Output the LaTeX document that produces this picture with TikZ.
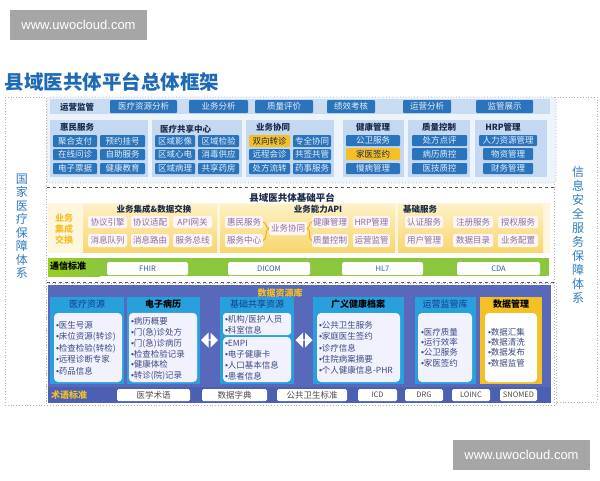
\documentclass[tikz,border=0pt]{standalone}
\usepackage{fontspec}
\setmainfont{Noto Sans CJK SC}
\newfontfamily\wmfont{Liberation Sans}
\newcommand\bul{{\wmfont •}}
\usetikzlibrary{shapes.arrows}
\definecolor{titleblue}{HTML}{1E6AB4}
\definecolor{btnblue}{HTML}{2A74BC}
\definecolor{btntext}{HTML}{E4EEFA}
\definecolor{grpblue}{HTML}{C4D9F1}
\definecolor{bandbg}{HTML}{EDF4FC}
\definecolor{stripblue}{HTML}{C9DCF1}
\definecolor{hlyellow}{HTML}{F5C026}
\definecolor{darktext}{HTML}{1A2A4A}
\definecolor{sidetext}{HTML}{2E7BBF}
\definecolor{ptext}{HTML}{8B6EA9}
\definecolor{pfill}{HTML}{FDF6F4}
\definecolor{greenbar}{HTML}{8CC63E}
\definecolor{greenlab}{HTML}{6DBB2E}
\definecolor{stdtext}{HTML}{2E5F9A}
\definecolor{navy}{HTML}{5868BA}
\definecolor{colblue}{HTML}{27A0DC}
\definecolor{termbar}{HTML}{4B5FB3}
\definecolor{itemtext}{HTML}{3C4A80}
\definecolor{coltitle}{HTML}{183A8C}
\definecolor{wmgray}{HTML}{A6A6A6}
\definecolor{ptop}{HTML}{FDF1C6}
\definecolor{pbot}{HTML}{F8D66E}
\newcommand\RB[7]{\node[#6, minimum width={(#4)-(#2)}, minimum height={(#5)-(#3)}] (#1) at ({((#2)+(#4))/2},{((#3)+(#5))/2}) {#7};}
\tikzset{
  every node/.style={inner sep=0pt, outer sep=0pt},
  bbtn/.style={fill=btnblue, text=btntext, font=\fontsize{8.5}{9}\selectfont, rounded corners=1pt},
  ybtn/.style={fill=hlyellow, text=darktext, font=\fontsize{8.5}{9}\selectfont, rounded corners=1pt},
  grp/.style={fill=grpblue},
  gtitle/.style={text=darktext, font=\fontsize{8.5}{9}\selectfont\bfseries},
  pbtn/.style={fill=pfill, text=ptext, font=\fontsize{8.5}{9}\selectfont, rounded corners=2pt},
  ypanel/.style={top color=ptop, bottom color=pbot},
  sbox/.style={fill=white, text=stdtext, font=\fontsize{7.5}{8}\selectfont, rounded corners=1.5pt},
  tbox/.style={fill=white, text=black!70, font=\fontsize{8.5}{9}\selectfont, rounded corners=1.5pt},
  col/.style={fill=colblue},
  inner/.style={fill=white!95!blue, rounded corners=4pt},
  items/.style={align=left, text=itemtext, anchor=west},
  ctitle/.style={font=\fontsize{9}{10}\selectfont, text=coltitle},
  cbtitle/.style={font=\fontsize{9}{10}\selectfont\bfseries, text=black},
  side/.style={draw=black!30, dotted, line width=0.8pt},
  brk/.style={draw=orange!50!yellow!80!brown, line width=1pt},
  darr/.style={double arrow, fill=white, minimum width=15pt, double arrow head extend=2pt, minimum height=17pt}
}
\begin{document}
\begin{tikzpicture}[x=1pt,y=-1pt]
\useasboundingbox (0,0) rectangle (600,480);
\fill[white] (0,0) rectangle (600,480);
% watermarks
\RB{wm1}{10}{10}{147}{40}{fill=wmgray, text=white, font=\wmfont\fontsize{13}{14}\selectfont}{www.uwocloud.com}
\RB{wm2}{453}{440}{590}{470}{fill=wmgray, text=white, font=\wmfont\fontsize{13}{14}\selectfont}{www.uwocloud.com}
% title
\node[anchor=west, text=titleblue, font=\fontsize{19.5}{21}\selectfont\bfseries] (title) at (5,82) {县域医共体平台总体框架};
% side panels
\draw[side] (5,97) rectangle (46,405);
\draw[side] (554,97) rectangle (597,402);
\node[align=center, text=sidetext, font=\fontsize{12}{13.5}\selectfont] (lside) at (22,226) {国\\家\\医\\疗\\保\\障\\体\\系};
\node[align=center, text=sidetext, font=\fontsize{12}{14}\selectfont] (rside) at (578,235) {信\\息\\安\\全\\服\\务\\保\\障\\体\\系};
% ===== top band =====
\draw[side, fill=bandbg, rounded corners=3pt] (47,97) rectangle (556,183);
\fill[stripblue] (50,99) rectangle (550,114);
\node[gtitle] (yyjg) at (77,107) {运营监管};
\RB{r1a}{110}{100}{177}{113}{bbtn}{医疗资源分析}
\RB{r1b}{189}{100}{248}{113}{bbtn}{业务分析}
\RB{r1c}{255}{100}{313}{113}{bbtn}{质量评价}
\RB{r1d}{327}{100}{375}{113}{bbtn}{绩效考核}
\RB{r1e}{403}{100}{451}{113}{bbtn}{运营分析}
\RB{r1f}{476}{100}{533}{113}{bbtn}{监管展示}
% groups
\RB{g1}{50}{120}{148}{177}{grp}{}
\RB{g2}{152}{120}{242}{177}{grp}{}
\RB{g3}{246}{120}{334}{177}{grp}{}
\RB{g4}{343}{120}{404}{177}{grp}{}
\RB{g5}{408}{120}{470}{177}{grp}{}
\RB{g6}{475}{120}{547}{177}{grp}{}
\node[gtitle, anchor=west] (g1t) at (60,127) {惠民服务};
\node[gtitle, anchor=west] (g2t) at (160,129) {医疗共享中心};
\node[gtitle, anchor=west] (g3t) at (256,127) {业务协同};
\node[gtitle] (g4t) at (373,127) {健康管理};
\node[gtitle] (g5t) at (439,127) {质量控制};
\node[gtitle] (g6t) at (503,127) {HRP管理};
\RB{b11}{53}{135}{97}{147}{bbtn}{聚合支付}
\RB{b12}{100}{135}{145}{147}{bbtn}{预约挂号}
\RB{b13}{53}{149}{97}{160}{bbtn}{在线问诊}
\RB{b14}{100}{149}{145}{160}{bbtn}{自助服务}
\RB{b15}{53}{163}{97}{174}{bbtn}{电子票据}
\RB{b16}{100}{163}{145}{174}{bbtn}{健康教育}
\RB{b21}{155}{135}{195}{147}{bbtn}{区域影像}
\RB{b22}{198}{135}{239}{147}{bbtn}{区域检验}
\RB{b23}{155}{149}{195}{160}{bbtn}{区域心电}
\RB{b24}{198}{149}{239}{160}{bbtn}{消毒供应}
\RB{b25}{155}{163}{195}{174}{bbtn}{区域病理}
\RB{b26}{198}{163}{239}{174}{bbtn}{共享药房}
\RB{b31}{249}{135}{290}{147}{ybtn}{双向转诊}
\RB{b32}{293}{135}{331}{147}{bbtn}{专全协同}
\RB{b33}{249}{149}{290}{160}{bbtn}{远程会诊}
\RB{b34}{293}{149}{331}{160}{bbtn}{共签共管}
\RB{b35}{249}{163}{290}{174}{bbtn}{处方流转}
\RB{b36}{293}{163}{331}{174}{bbtn}{药事服务}
\RB{b41}{346}{135}{400}{146}{bbtn}{公卫服务}
\RB{b42}{346}{148}{400}{160}{ybtn}{家医签约}
\RB{b43}{346}{163}{400}{174}{bbtn}{慢病管理}
\RB{b51}{412}{135}{467}{146}{bbtn}{处方点评}
\RB{b52}{412}{148}{467}{160}{bbtn}{病历质控}
\RB{b53}{412}{163}{467}{174}{bbtn}{医技质控}
\RB{b61}{479}{135}{537}{146}{bbtn}{人力资源管理}
\RB{b62}{483}{148}{533}{160}{bbtn}{物资管理}
\RB{b63}{483}{163}{533}{174}{bbtn}{财务管理}
% ===== middle platform =====
\draw[dashed, black!65, line width=0.8pt] (47,187) -- (555,187);
\draw[dashed, black!65, line width=0.8pt] (47,282) -- (555,282);
\node[gtitle, font=\fontsize{9.5}{10}\selectfont\bfseries] (midt) at (292,198) {县域医共体基础平台};
\RB{ypan}{48}{203}{550}{253}{fill=ptop!60!white}{}
\RB{pa}{83}{204}{217}{252}{ypanel}{}
\RB{pb}{220}{204}{395}{252}{ypanel}{}
\RB{pc}{398}{204}{543}{252}{ypanel}{}
\node[align=center, text=hlyellow, font=\fontsize{9}{11}\selectfont\bfseries] (ywjc) at (64,229) {业务\\集成\\交换};
\node[gtitle] (pat) at (154,209) {业务集成\&数据交换};
\node[gtitle] (pbt) at (318,209) {业务能力API};
\node[gtitle] (pct) at (420,209) {基础服务};
\RB{pa1}{88}{216}{127}{228}{pbtn}{协议引擎}
\RB{pa2}{131}{216}{169}{228}{pbtn}{协议适配}
\RB{pa3}{173}{216}{212}{228}{pbtn}{API网关}
\RB{pa4}{88}{234}{127}{247}{pbtn}{消息队列}
\RB{pa5}{131}{234}{169}{247}{pbtn}{消息路由}
\RB{pa6}{173}{234}{212}{247}{pbtn}{服务总线}
\RB{pb1}{225}{216}{263}{228}{pbtn}{惠民服务}
\RB{pb2}{225}{234}{263}{247}{pbtn}{服务中心}
\RB{pb3}{269}{222}{307}{235}{pbtn}{业务协同}
\RB{pb4}{312}{216}{348}{228}{pbtn}{健康管理}
\RB{pb5}{353}{216}{390}{228}{pbtn}{HRP管理}
\RB{pb6}{312}{234}{348}{247}{pbtn}{质量控制}
\RB{pb7}{353}{234}{390}{247}{pbtn}{运营监管}
\draw[brk] (pb1.east) to[out=0,in=180] (pb3.west);
\draw[brk] (pb2.east) to[out=0,in=180] (pb3.west);
\draw[brk] (pb3.east) to[out=0,in=180] (pb4.west);
\draw[brk] (pb3.east) to[out=0,in=180] (pb6.west);
\RB{pc1}{405}{216}{443}{228}{pbtn}{认证服务}
\RB{pc2}{453}{216}{493}{228}{pbtn}{注册服务}
\RB{pc3}{498}{216}{538}{228}{pbtn}{授权服务}
\RB{pc4}{405}{234}{443}{247}{pbtn}{用户管理}
\RB{pc5}{453}{234}{493}{247}{pbtn}{数据目录}
\RB{pc6}{498}{234}{538}{247}{pbtn}{业务配置}
% green bar
\RB{gbar}{48}{258}{549}{276}{fill=greenbar}{}
\RB{glab}{48}{258}{100}{276}{left color=greenlab!70!yellow, right color=greenbar}{}
\node[anchor=west, font=\fontsize{9}{10}\selectfont\bfseries, text=black] (txbz) at (50,266) {通信标准};
\RB{s1}{107}{262}{188}{275}{sbox}{FHIR}
\RB{s2}{228}{262}{310}{275}{sbox}{DICOM}
\RB{s3}{342}{262}{423}{275}{sbox}{HL7}
\RB{s4}{457}{262}{540}{275}{sbox}{CDA}
% ===== bottom data resources =====
\draw[side] (46,283) rectangle (556,405);
\RB{navy}{48}{285}{551}{387}{fill=navy}{}
\node[font=\fontsize{9}{10}\selectfont\bfseries, text=hlyellow] (sjzyk) at (280,293) {数据资源库};
\RB{c1}{50}{297}{124}{384}{col}{}
\RB{c2}{127}{297}{200}{384}{col}{}
\RB{c3}{220}{297}{294}{384}{col}{}
\RB{c4}{313}{297}{404}{384}{col}{}
\RB{c5}{415}{297}{476}{384}{col}{}
\RB{c6}{480}{297}{542}{384}{fill=hlyellow}{}
\node[ctitle] (c1t) at (87,304) {医疗资源};
\node[cbtitle] (c2t) at (163,304) {电子病历};
\node[ctitle] (c3t) at (257,304) {基础共享资源};
\node[cbtitle] (c4t) at (358,304) {广义健康档案};
\node[ctitle] (c5t) at (445,304) {运营监管库};
\node[cbtitle] (c6t) at (511,304) {数据管理};
\RB{i1}{54}{313}{122}{382}{inner}{}
\RB{i2}{129}{313}{197}{382}{inner, draw=red!25!white}{}
\RB{i3a}{223}{313}{291}{335}{inner, rounded corners=3pt}{}
\RB{i3b}{223}{337}{291}{382}{inner}{}
\RB{i4}{317}{313}{400}{382}{inner}{}
\RB{i5}{418}{313}{472}{382}{inner}{}
\RB{i6}{485}{313}{537}{382}{fill=white, rounded corners=4pt}{}
\node[items, font=\fontsize{8.5}{11.5}\selectfont] (t1) at (56,348) {\bul 医生号源\\\bul 床位资源(转诊)\\\bul 检查检验(转检)\\\bul 远程诊断专家\\\bul 药品信息};
\node[items, font=\fontsize{8.5}{10.8}\selectfont] (t2) at (131,349) {\bul 病历概要\\\bul 门(急)诊处方\\\bul 门(急)诊病历\\\bul 检查检验记录\\\bul 健康体检\\\bul 转诊(院)记录};
\node[items, font=\fontsize{8.5}{11}\selectfont] (t3a) at (225,325) {\bul 机构/医护人员\\\bul 科室信息};
\node[items, font=\fontsize{8.5}{11}\selectfont] (t3b) at (225,360.5) {\bul EMPI\\\bul 电子健康卡\\\bul 人口基本信息\\\bul 患者信息};
\node[items, font=\fontsize{8.5}{11.3}\selectfont] (t4) at (319,348) {\bul 公共卫生服务\\\bul 家庭医生签约\\\bul 诊疗信息\\\bul 住院病案摘要\\\bul 个人健康信息-PHR};
\node[items, font=\fontsize{8.5}{10.3}\selectfont] (t5) at (421,347.5) {\bul 医疗质量\\\bul 运行效率\\\bul 公卫服务\\\bul 家医签约};
\node[items, font=\fontsize{8.5}{10.3}\selectfont] (t6) at (488,347.5) {\bul 数据汇集\\\bul 数据清洗\\\bul 数据发布\\\bul 数据监管};
\node[darr] (da1) at (209.5,340) {};
\node[darr] (da2) at (304,340) {};
% term standards bar
\RB{tbar}{48}{387}{551}{403}{fill=termbar}{}
\node[anchor=west, font=\fontsize{9}{10}\selectfont\bfseries, text=hlyellow] (shbz) at (51,395) {术语标准};
\RB{tt1}{117}{389}{190}{401}{tbox}{医学术语}
\RB{tt2}{202}{389}{267}{401}{tbox}{数据字典}
\RB{tt3}{277}{389}{347}{401}{tbox}{公共卫生标准}
\RB{tt4}{358}{389}{397}{401}{tbox, font=\fontsize{7.5}{8}\selectfont}{ICD}
\RB{tt5}{405}{389}{443}{401}{tbox, font=\fontsize{7.5}{8}\selectfont}{DRG}
\RB{tt6}{452}{389}{490}{401}{tbox, font=\fontsize{7.5}{8}\selectfont}{LOINC}
\RB{tt7}{500}{389}{537}{401}{tbox, font=\fontsize{7.5}{8}\selectfont}{SNOMED}
\end{tikzpicture}
\end{document}
